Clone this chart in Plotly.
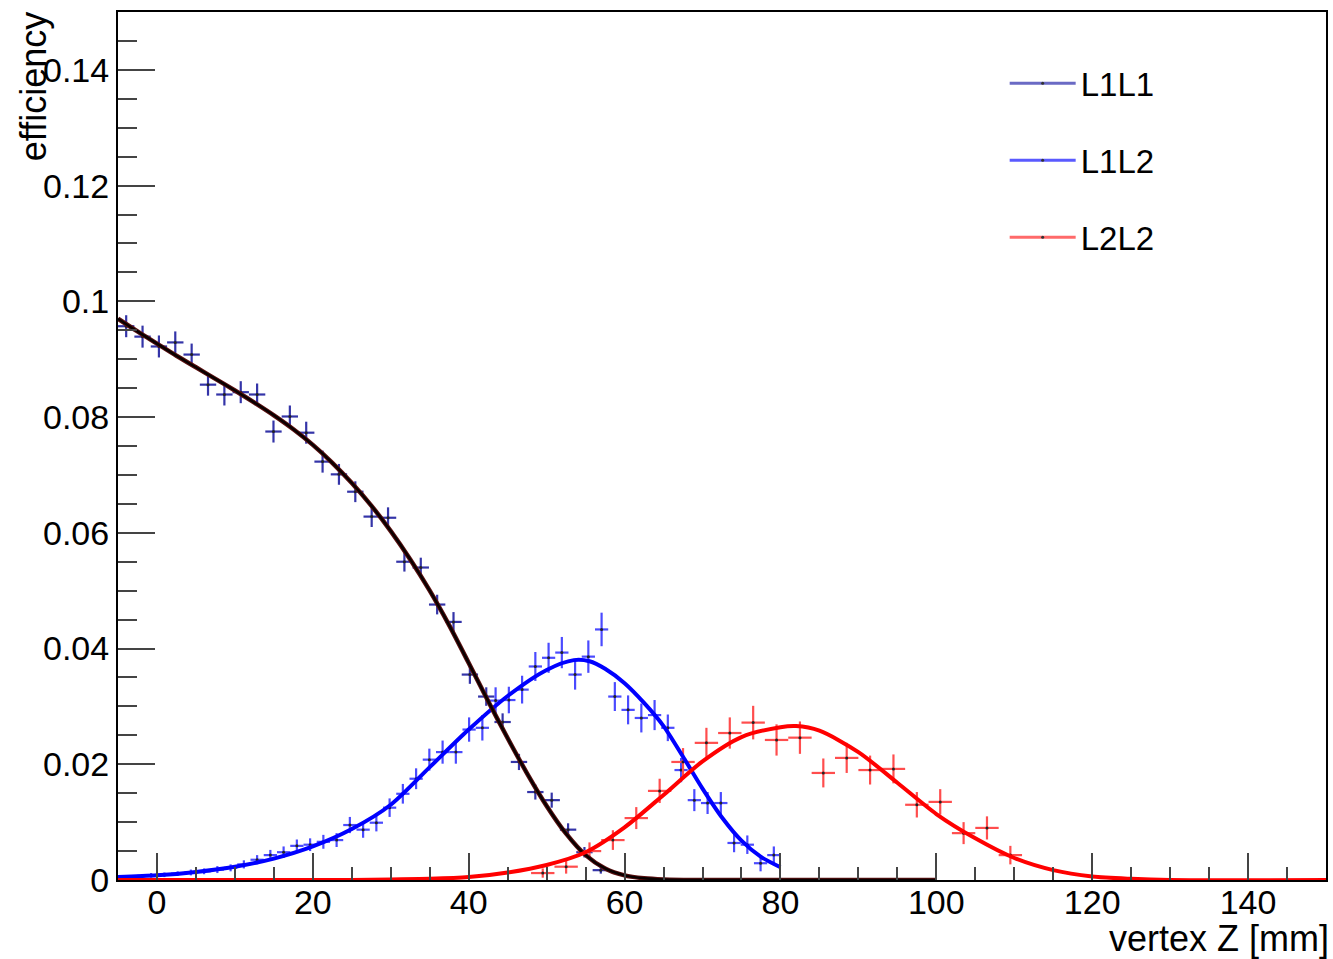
import plotly.graph_objects as go

# ---------------- data ----------------
# L1L1 histogram (bin width 2.1 mm)
l1l1_x = [-3.95, -1.85, 0.25, 2.35, 4.45, 6.55, 8.65, 10.75, 12.85, 14.95,
          17.05, 19.15, 21.25, 23.35, 25.45, 27.55, 29.65, 31.75, 33.85, 35.95,
          38.05, 40.15, 42.25, 44.35, 46.45, 48.55, 50.65, 52.75, 54.85, 56.95]
l1l1_y = [0.0957, 0.0939, 0.0922, 0.0929, 0.0908, 0.0856, 0.0839, 0.0843, 0.0839, 0.0775,
          0.0801, 0.0773, 0.0723, 0.0701, 0.0671, 0.0628, 0.0626, 0.0550, 0.0540, 0.0476,
          0.0446, 0.0355, 0.0317, 0.0273, 0.0204, 0.0152, 0.0138, 0.0087, 0.0048, 0.0017]
l1l1_err = [0.0019, 0.0019, 0.0019, 0.0019, 0.0019, 0.0019, 0.0019, 0.0019, 0.0019, 0.0019,
            0.0019, 0.0019, 0.0019, 0.0018, 0.0018, 0.0018, 0.0018, 0.0017, 0.0017, 0.0017,
            0.0017, 0.0016, 0.0016, 0.0015, 0.0014, 0.0013, 0.0013, 0.0011, 0.0009, 0.0006]

# L1L2 histogram (bin width 1.7 mm)
l1l2_x = [-4.15, -2.45, -0.75, 0.95, 2.65, 4.35, 6.05, 7.75, 9.45, 11.15,
          12.85, 14.55, 16.25, 17.95, 19.65, 21.35, 23.05, 24.75, 26.45, 28.15,
          29.85, 31.55, 33.25, 34.95, 36.65, 38.35, 40.05, 41.75, 43.45, 45.15,
          46.85, 48.55, 50.25, 51.95, 53.65, 55.35, 57.05, 58.75, 60.45, 62.15,
          63.85, 65.55, 67.25, 68.95, 70.65, 72.35, 74.05, 75.75, 77.45, 79.15]
l1l2_y = [0.0005, 0.0006, 0.0008, 0.0009, 0.0011, 0.0013, 0.0015, 0.0018, 0.0021, 0.0027,
          0.0035, 0.0043, 0.0048, 0.0059, 0.0061, 0.0066, 0.0069, 0.0095, 0.0087, 0.0099,
          0.0125, 0.0149, 0.0175, 0.0208, 0.0221, 0.0221, 0.0260, 0.0263, 0.0310, 0.0311,
          0.0329, 0.0369, 0.0384, 0.0393, 0.0355, 0.0386, 0.0433, 0.0317, 0.0294, 0.0280,
          0.0285, 0.0263, 0.0190, 0.0138, 0.0133, 0.0133, 0.0064, 0.0061, 0.0029, 0.0043]
l1l2_err = [0.0003, 0.0003, 0.0004, 0.0004, 0.0004, 0.0005, 0.0005, 0.0006, 0.0006, 0.0007,
            0.0008, 0.0009, 0.0010, 0.0011, 0.0011, 0.0012, 0.0012, 0.0014, 0.0014, 0.0015,
            0.0016, 0.0017, 0.0018, 0.0019, 0.0020, 0.0020, 0.0021, 0.0022, 0.0023, 0.0023,
            0.0024, 0.0025, 0.0026, 0.0027, 0.0026, 0.0028, 0.0029, 0.0025, 0.0025, 0.0025,
            0.0026, 0.0023, 0.0021, 0.0019, 0.0019, 0.0019, 0.0016, 0.0016, 0.0014, 0.0015]

# L2L2 histogram (bin width 3 mm)
l2l2_x = [49.5, 52.5, 55.5, 58.5, 61.5, 64.5, 67.5, 70.5, 73.5, 76.5, 79.5,
          82.5, 85.5, 88.5, 91.5, 94.5, 97.5, 100.5, 103.5, 106.5, 109.5]
l2l2_y = [0.0012, 0.0023, 0.0050, 0.0069, 0.0107, 0.0154, 0.0204, 0.0237, 0.0254, 0.0272, 0.0242,
          0.0246, 0.0185, 0.0211, 0.0190, 0.0192, 0.0130, 0.0135, 0.0081, 0.0090, 0.0043]
l2l2_err = [0.0008, 0.0012, 0.0015, 0.0017, 0.0019, 0.0021, 0.0024, 0.0026, 0.0027, 0.0029, 0.0027,
            0.0028, 0.0025, 0.0026, 0.0025, 0.0025, 0.0022, 0.0022, 0.0019, 0.0020, 0.0016]

# fitted curves
fit1_x = [-5, -2.5, 0, 2.5, 5, 7.5, 10, 12.5, 15, 17.5, 20, 22.5, 25, 27.5, 30, 32.5,
          35, 37.5, 40, 42.5, 45, 47.5, 50, 52.5, 55, 57.5, 60, 62.5, 65, 70, 80, 100]
fit1_y = [0.0970, 0.0948, 0.0927, 0.0906, 0.0886, 0.0866, 0.0846, 0.0825, 0.0803, 0.0779,
          0.0752, 0.0721, 0.0686, 0.0647, 0.0603, 0.0554, 0.0500, 0.0440, 0.0375, 0.0309,
          0.0245, 0.0184, 0.0128, 0.0080, 0.0043, 0.0020, 0.0008, 0.0003, 0.0001, 0.0, 0.0, 0.0]

fit2_x = [-5, 0, 5, 10, 15, 20, 25, 30, 35, 40, 45, 50, 53.5, 55.5, 57.5, 60, 62.5,
          65, 67.5, 70, 72.5, 75, 77.5, 80]
fit2_y = [0.0005, 0.0008, 0.0014, 0.0023, 0.0037, 0.0058, 0.0088, 0.0130, 0.0195, 0.0260,
          0.0318, 0.0363, 0.0380, 0.0378, 0.0365, 0.0340, 0.0306, 0.0266, 0.0213, 0.0158,
          0.0108, 0.0068, 0.0040, 0.0022]

fit3_x = [-5, 25, 30, 35, 40, 45, 50, 55, 60, 65, 70, 75, 80, 82, 85, 90, 95, 100,
          105, 110, 115, 120, 125, 130, 150]
fit3_y = [0.0, 0.0, 0.0001, 0.0002, 0.0005, 0.0013, 0.0026, 0.0048, 0.0091, 0.0147, 0.0205,
          0.0247, 0.0264, 0.0266, 0.0258, 0.0221, 0.0168, 0.0114, 0.0072, 0.0038, 0.0017,
          0.0006, 0.0002, 0.0, 0.0]

legend_names = ["L1L1", "L1L2", "L2L2"]
y_tickvals = [0, 0.02, 0.04, 0.06, 0.08, 0.1, 0.12, 0.14]
y_ticktext = ["0", "0.02", "0.04", "0.06", "0.08", "0.1", "0.12", "0.14"]
x_tickvals = [0, 20, 40, 60, 80, 100, 120, 140]
x_ticktext = ["0", "20", "40", "60", "80", "100", "120", "140"]

# ---------------- figure ----------------
FONT = "Liberation Sans, Arial, sans-serif"
fig = go.Figure()


def points(x, y, err, half, color):
    return go.Scatter(
        x=x, y=y, mode="markers", showlegend=False,
        marker=dict(size=3, color="#222222"),
        error_y=dict(type="data", array=err, width=0, thickness=2.2, color=color),
        error_x=dict(type="constant", value=half, width=0, thickness=2.2, color=color),
        hoverinfo="x+y",
    )


fig.add_trace(points(l1l1_x, l1l1_y, l1l1_err, 1.05, "#3434a8"))
fig.add_trace(points(l1l2_x, l1l2_y, l1l2_err, 0.85, "#4a4aff"))
fig.add_trace(points(l2l2_x, l2l2_y, l2l2_err, 1.5, "#ff4d4d"))

fig.add_trace(go.Scatter(x=fit2_x, y=fit2_y, mode="lines", showlegend=False,
                         line=dict(color="#0000ff", width=4, shape="spline", smoothing=0.8)))
fig.add_trace(go.Scatter(x=fit1_x, y=fit1_y, mode="lines", showlegend=False,
                         line=dict(color="#5a1010", width=4.5, shape="spline", smoothing=0.8)))
fig.add_trace(go.Scatter(x=fit1_x, y=fit1_y, mode="lines", showlegend=False,
                         line=dict(color="#0a0000", width=2.5, shape="spline", smoothing=0.8)))
fig.add_trace(go.Scatter(x=fit3_x, y=fit3_y, mode="lines", showlegend=False,
                         line=dict(color="#ff0000", width=4, shape="spline", smoothing=0.8)))

legend_colors = ["#6a6ac4", "#5a5aff", "#ff6a6a"]
for name, col in zip(legend_names, legend_colors):
    fig.add_trace(go.Scatter(
        x=[None], y=[None], mode="lines+markers", name=name,
        legendgroup=name,
        line=dict(color=col, width=3),
        marker=dict(size=3, color="#333333"),
    ))

fig.update_layout(
    width=1333, height=959,
    margin=dict(l=118, r=5, t=12, b=79),
    paper_bgcolor="white", plot_bgcolor="white",
    font=dict(family=FONT, size=34, color="black"),
    showlegend=True,
    legend=dict(
        x=0.734, y=0.950, xanchor="left", yanchor="top",
        bgcolor="rgba(0,0,0,0)", borderwidth=0,
        font=dict(family=FONT, size=33, color="black"),
        traceorder="grouped", tracegroupgap=31, itemwidth=66,
    ),
    xaxis=dict(
        range=[-5, 150], showgrid=False, zeroline=False,
        showline=True, mirror=True, linecolor="black", linewidth=2,
        ticks="inside", ticklen=27, tickwidth=2, tickcolor="#444444",
        tickvals=x_tickvals, ticktext=x_ticktext, ticklabelstandoff=-9,
        tickfont=dict(family=FONT, size=34, color="black"),
        minor=dict(ticks="inside", ticklen=13, tickwidth=2, tickcolor="#444444", dtick=5, tick0=0,
                   showgrid=False),
    ),
    yaxis=dict(
        range=[0, 0.15], showgrid=False, zeroline=False,
        showline=True, mirror=True, linecolor="black", linewidth=2,
        ticks="inside", ticklen=37, tickwidth=2, tickcolor="#444444",
        tickvals=y_tickvals, ticktext=y_ticktext,
        tickfont=dict(family=FONT, size=34, color="black"),
        minor=dict(ticks="inside", ticklen=19, tickwidth=2, tickcolor="#444444", dtick=0.005, tick0=0,
                   showgrid=False),
    ),
    annotations=[
        dict(text="vertex Z [mm]", xref="paper", yref="paper", x=1.004, y=-0.042,
             xanchor="right", yanchor="top", showarrow=False,
             font=dict(family=FONT, size=36, color="black")),
        dict(text="efficiency", xref="paper", yref="paper", x=-0.07, y=1.002,
             xanchor="center", yanchor="top", textangle=-90, showarrow=False,
             font=dict(family=FONT, size=36, color="black")),
    ],
)

fig.write_html("out.html", include_plotlyjs=True,
               config={"displayModeBar": False},
               post_script="document.body.style.margin='0';")
